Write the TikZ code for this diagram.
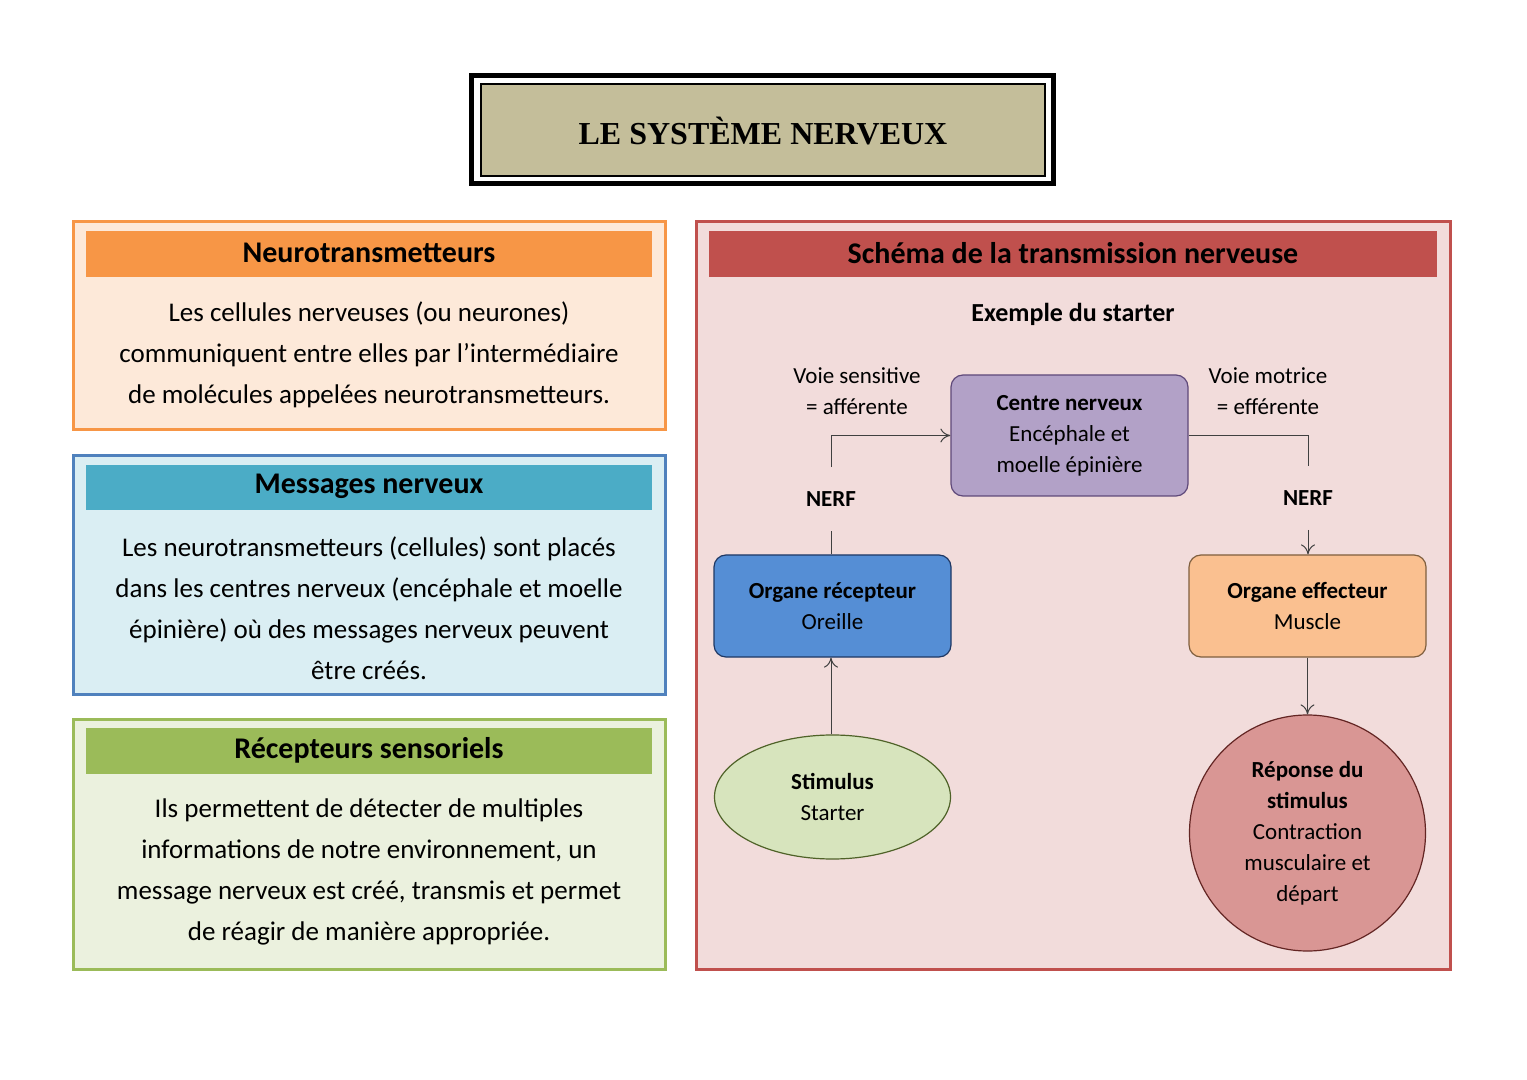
\documentclass[tikz,border=0pt]{standalone}
\usepackage{fontspec}
\setmainfont{Carlito}
\newfontfamily\titlefont{Liberation Serif}
\usetikzlibrary{arrows.meta,shapes.geometric}
\definecolor{orng}{HTML}{F79646}\definecolor{orngf}{HTML}{FDE9D9}
\definecolor{blu}{HTML}{4F81BD}\definecolor{bluh}{HTML}{4BACC6}\definecolor{bluf}{HTML}{DAEEF3}
\definecolor{grn}{HTML}{9BBB59}\definecolor{grnf}{HTML}{EBF1DE}
\definecolor{red}{HTML}{C0504D}\definecolor{redf}{HTML}{F2DCDB}
\definecolor{tan}{HTML}{C4BE9A}
\definecolor{purp}{HTML}{B2A1C7}\definecolor{purpd}{HTML}{5F497A}
\definecolor{recb}{HTML}{558ED5}\definecolor{recd}{HTML}{1F3864}
\definecolor{effo}{HTML}{FAC090}\definecolor{effd}{HTML}{7F5F3F}
\definecolor{stim}{HTML}{D7E4BD}\definecolor{stimd}{HTML}{4F6228}
\definecolor{rep}{HTML}{D99694}\definecolor{repd}{HTML}{632523}
\begin{document}
\begin{tikzpicture}[x=0.5pt,y=-0.5pt,
  body/.style={font=\fontsize{13.5}{20.5}\selectfont,align=center},
  hdr/.style={font=\fontsize{15}{18}\selectfont\bfseries},
  dia/.style={font=\fontsize{11.5}{15.5}\selectfont,align=center},
  blk/.style={rounded corners=6pt,line width=0.6pt},
  conn/.style={draw=black!75,line width=0.5pt},
  arr/.style={conn,-{To[length=5pt,width=7pt]}}]
\useasboundingbox (0,0) rectangle (1527,1080);
% title
\draw[line width=2.5pt,fill=white] (471,76) rectangle (1053,184);
\draw[line width=1.2pt,fill=tan] (481,84) rectangle (1045,176);
\node[font=\titlefont\fontsize{16}{18}\selectfont\bfseries] (title) at (763,131) {LE SYSTÈME NERVEUX};
% box1
\draw[orng,line width=1.5pt,fill=orngf] (73,222) rectangle (665,430);
\fill[orng] (86,231) rectangle (652,277);
\node[hdr] (h1) at (369,253) {Neurotransmetteurs};
\node[body] (b1) at (369,355) {Les cellules nerveuses (ou neurones)\\communiquent entre elles par l’intermédiaire\\de molécules appelées neurotransmetteurs.};
% box2
\draw[blu,line width=1.5pt,fill=bluf] (73,456) rectangle (665,694);
\fill[bluh] (86,465) rectangle (652,510);
\node[hdr] (h2) at (369,486) {Messages nerveux};
\node[body] (b2) at (369,608) {Les neurotransmetteurs (cellules) sont placés\\dans les centres nerveux (encéphale et moelle\\épinière) où des messages nerveux peuvent\\être créés.};
% box3
\draw[grn,line width=1.5pt,fill=grnf] (73,719) rectangle (665,969);
\fill[grn] (86,728) rectangle (652,774);
\node[hdr] (h3) at (369,750) {Récepteurs sensoriels};
\node[body] (b3) at (369,872) {Ils permettent de détecter de multiples\\informations de notre environnement, un\\message nerveux est créé, transmis et permet\\de réagir de manière appropriée.};
% box4
\draw[red,line width=1.5pt,fill=redf] (696,222) rectangle (1450,969);
\fill[red] (709,231) rectangle (1437,277);
\node[hdr] (h4) at (1073,253) {Schéma de la transmission nerveuse};
\node[font=\fontsize{13}{16}\selectfont\bfseries] (ex) at (1073,314) {Exemple du starter};
% nodes
\node[blk,draw=purpd,fill=purp,minimum width=118.5pt,minimum height=60.5pt,dia] (cn) at (1069.5,435.5) {\textbf{Centre nerveux}\\Encéphale et\\moelle épinière};
\node[blk,draw=recd,fill=recb,minimum width=118.5pt,minimum height=51pt,dia] (rec) at (832.5,606) {\textbf{Organe récepteur}\\Oreille};
\node[blk,draw=effd,fill=effo,minimum width=118.5pt,minimum height=51pt,dia] (eff) at (1307.5,606) {\textbf{Organe effecteur}\\Muscle};
\node[ellipse,draw=stimd,fill=stim,line width=0.6pt,minimum width=118pt,minimum height=62pt,dia] (st) at (832.5,797) {\textbf{Stimulus}\\Starter};
\node[circle,draw=repd,fill=rep,line width=0.6pt,minimum size=118pt,dia] (rp) at (1307.5,833) {\textbf{Réponse du}\\\textbf{stimulus}\\Contraction\\musculaire et\\départ};
% labels
\node[dia] (vs) at (857,391.5) {Voie sensitive\\= afférente};
\node[dia] (vm) at (1268,391.5) {Voie motrice\\= efférente};
\node[font=\fontsize{11.5}{14}\selectfont\bfseries,inner ysep=12pt] (n1) at (831,499) {NERF};
\node[font=\fontsize{11.5}{14}\selectfont\bfseries,inner ysep=12pt] (n2) at (1308,498) {NERF};
% connectors
\draw[conn] (rec.north -| n1) -- (n1.south);
\draw[arr] (n1.north) |- (cn.west);
\draw[conn] (cn.east) -| (n2.north);
\draw[arr] (n2.south) -- (eff.north -| n2);
\draw[arr] (eff.south) -- (rp.north);
\draw[arr] (st.north -| n1) -- (rec.south -| n1);
\end{tikzpicture}
\end{document}
